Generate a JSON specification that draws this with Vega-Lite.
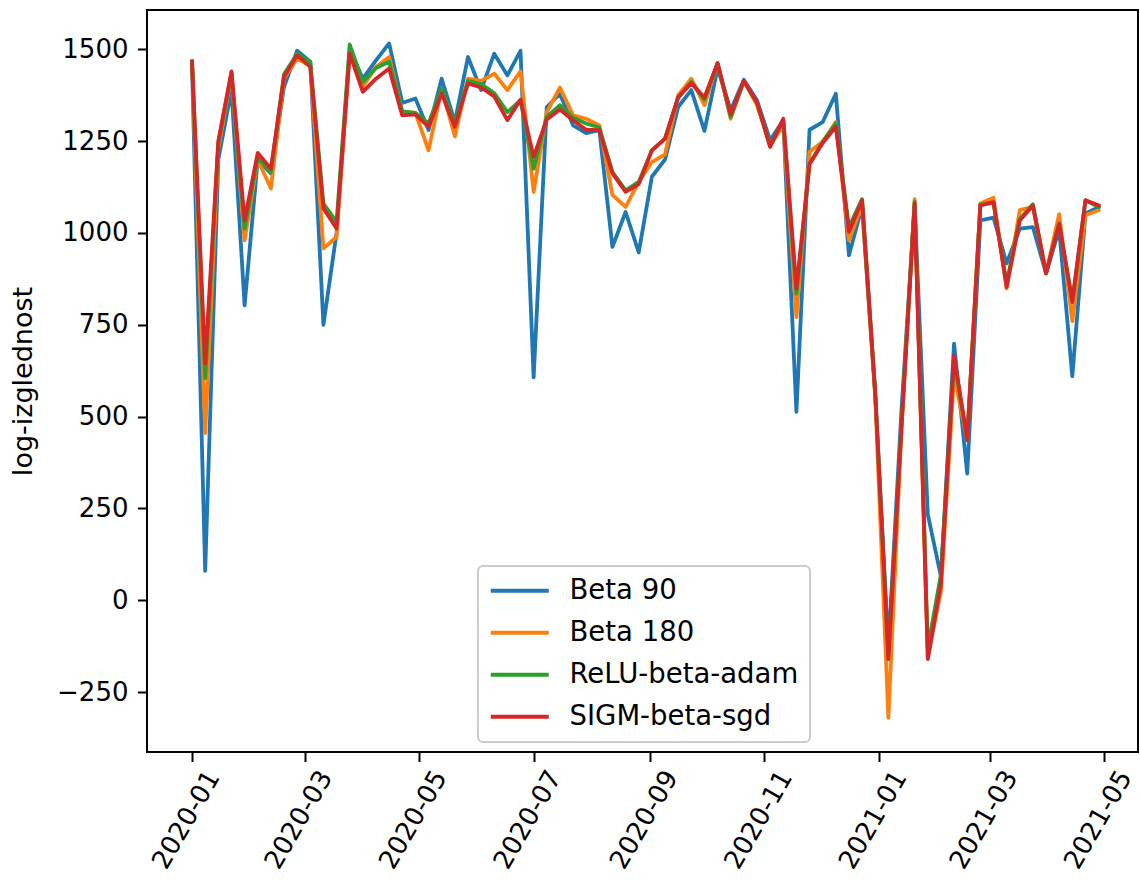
{
  "$schema": "https://vega.github.io/schema/vega-lite/v6.json",
  "width": 991,
  "height": 742,
  "autosize": {"type": "none"},
  "padding": {"left": 147, "top": 10, "right": 2, "bottom": 129},
  "background": "white",
  "config": {
    "font": "DejaVu Sans",
    "view": {"stroke": "black", "strokeWidth": 2},
    "legend": {"strokeWidth": 2},
    "axis": {"grid": false, "domain": false, "labelColor": "black", "tickColor": "black", "tickSize": 9.5, "tickWidth": 2, "labelFontSize": 26, "titleFontSize": 27, "titleFontWeight": "normal", "titleColor": "black", "labelFont": "DejaVu Sans", "titleFont": "DejaVu Sans"}
  },
  "data": {"values": [
{"d":"2020-01-01","s":"Beta 90","v":1455},{"d":"2020-01-01","s":"Beta 180","v":1462},{"d":"2020-01-01","s":"ReLU-beta-adam","v":1468},{"d":"2020-01-01","s":"SIGM-beta-sgd","v":1465},
{"d":"2020-01-08","s":"Beta 90","v":80},{"d":"2020-01-08","s":"Beta 180","v":455},{"d":"2020-01-08","s":"ReLU-beta-adam","v":604},{"d":"2020-01-08","s":"SIGM-beta-sgd","v":645},
{"d":"2020-01-15","s":"Beta 90","v":1200},{"d":"2020-01-15","s":"Beta 180","v":1230},{"d":"2020-01-15","s":"ReLU-beta-adam","v":1245},{"d":"2020-01-15","s":"SIGM-beta-sgd","v":1250},
{"d":"2020-01-22","s":"Beta 90","v":1390},{"d":"2020-01-22","s":"Beta 180","v":1430},{"d":"2020-01-22","s":"ReLU-beta-adam","v":1435},{"d":"2020-01-22","s":"SIGM-beta-sgd","v":1440},
{"d":"2020-01-29","s":"Beta 90","v":803},{"d":"2020-01-29","s":"Beta 180","v":980},{"d":"2020-01-29","s":"ReLU-beta-adam","v":1012},{"d":"2020-01-29","s":"SIGM-beta-sgd","v":1034},
{"d":"2020-02-05","s":"Beta 90","v":1200},{"d":"2020-02-05","s":"Beta 180","v":1200},{"d":"2020-02-05","s":"ReLU-beta-adam","v":1205},{"d":"2020-02-05","s":"SIGM-beta-sgd","v":1218},
{"d":"2020-02-12","s":"Beta 90","v":1162},{"d":"2020-02-12","s":"Beta 180","v":1121},{"d":"2020-02-12","s":"ReLU-beta-adam","v":1165},{"d":"2020-02-12","s":"SIGM-beta-sgd","v":1175},
{"d":"2020-02-19","s":"Beta 90","v":1398},{"d":"2020-02-19","s":"Beta 180","v":1420},{"d":"2020-02-19","s":"ReLU-beta-adam","v":1432},{"d":"2020-02-19","s":"SIGM-beta-sgd","v":1425},
{"d":"2020-02-26","s":"Beta 90","v":1496},{"d":"2020-02-26","s":"Beta 180","v":1475},{"d":"2020-02-26","s":"ReLU-beta-adam","v":1488},{"d":"2020-02-26","s":"SIGM-beta-sgd","v":1484},
{"d":"2020-03-04","s":"Beta 90","v":1466},{"d":"2020-03-04","s":"Beta 180","v":1455},{"d":"2020-03-04","s":"ReLU-beta-adam","v":1466},{"d":"2020-03-04","s":"SIGM-beta-sgd","v":1452},
{"d":"2020-03-11","s":"Beta 90","v":750},{"d":"2020-03-11","s":"Beta 180","v":958},{"d":"2020-03-11","s":"ReLU-beta-adam","v":1080},{"d":"2020-03-11","s":"SIGM-beta-sgd","v":1067},
{"d":"2020-03-18","s":"Beta 90","v":1000},{"d":"2020-03-18","s":"Beta 180","v":989},{"d":"2020-03-18","s":"ReLU-beta-adam","v":1030},{"d":"2020-03-18","s":"SIGM-beta-sgd","v":1012},
{"d":"2020-03-25","s":"Beta 90","v":1500},{"d":"2020-03-25","s":"Beta 180","v":1495},{"d":"2020-03-25","s":"ReLU-beta-adam","v":1513},{"d":"2020-03-25","s":"SIGM-beta-sgd","v":1488},
{"d":"2020-04-01","s":"Beta 90","v":1420},{"d":"2020-04-01","s":"Beta 180","v":1398},{"d":"2020-04-01","s":"ReLU-beta-adam","v":1411},{"d":"2020-04-01","s":"SIGM-beta-sgd","v":1384},
{"d":"2020-04-08","s":"Beta 90","v":1470},{"d":"2020-04-08","s":"Beta 180","v":1452},{"d":"2020-04-08","s":"ReLU-beta-adam","v":1449},{"d":"2020-04-08","s":"SIGM-beta-sgd","v":1420},
{"d":"2020-04-15","s":"Beta 90","v":1516},{"d":"2020-04-15","s":"Beta 180","v":1479},{"d":"2020-04-15","s":"ReLU-beta-adam","v":1466},{"d":"2020-04-15","s":"SIGM-beta-sgd","v":1448},
{"d":"2020-04-22","s":"Beta 90","v":1354},{"d":"2020-04-22","s":"Beta 180","v":1330},{"d":"2020-04-22","s":"ReLU-beta-adam","v":1331},{"d":"2020-04-22","s":"SIGM-beta-sgd","v":1320},
{"d":"2020-04-29","s":"Beta 90","v":1366},{"d":"2020-04-29","s":"Beta 180","v":1327},{"d":"2020-04-29","s":"ReLU-beta-adam","v":1327},{"d":"2020-04-29","s":"SIGM-beta-sgd","v":1323},
{"d":"2020-05-06","s":"Beta 90","v":1280},{"d":"2020-05-06","s":"Beta 180","v":1225},{"d":"2020-05-06","s":"ReLU-beta-adam","v":1298},{"d":"2020-05-06","s":"SIGM-beta-sgd","v":1289},
{"d":"2020-05-13","s":"Beta 90","v":1420},{"d":"2020-05-13","s":"Beta 180","v":1393},{"d":"2020-05-13","s":"ReLU-beta-adam","v":1393},{"d":"2020-05-13","s":"SIGM-beta-sgd","v":1379},
{"d":"2020-05-20","s":"Beta 90","v":1302},{"d":"2020-05-20","s":"Beta 180","v":1263},{"d":"2020-05-20","s":"ReLU-beta-adam","v":1298},{"d":"2020-05-20","s":"SIGM-beta-sgd","v":1289},
{"d":"2020-05-27","s":"Beta 90","v":1479},{"d":"2020-05-27","s":"Beta 180","v":1420},{"d":"2020-05-27","s":"ReLU-beta-adam","v":1414},{"d":"2020-05-27","s":"SIGM-beta-sgd","v":1407},
{"d":"2020-06-03","s":"Beta 90","v":1389},{"d":"2020-06-03","s":"Beta 180","v":1414},{"d":"2020-06-03","s":"ReLU-beta-adam","v":1405},{"d":"2020-06-03","s":"SIGM-beta-sgd","v":1396},
{"d":"2020-06-10","s":"Beta 90","v":1488},{"d":"2020-06-10","s":"Beta 180","v":1434},{"d":"2020-06-10","s":"ReLU-beta-adam","v":1381},{"d":"2020-06-10","s":"SIGM-beta-sgd","v":1372},
{"d":"2020-06-17","s":"Beta 90","v":1429},{"d":"2020-06-17","s":"Beta 180","v":1389},{"d":"2020-06-17","s":"ReLU-beta-adam","v":1329},{"d":"2020-06-17","s":"SIGM-beta-sgd","v":1307},
{"d":"2020-06-24","s":"Beta 90","v":1496},{"d":"2020-06-24","s":"Beta 180","v":1440},{"d":"2020-06-24","s":"ReLU-beta-adam","v":1361},{"d":"2020-06-24","s":"SIGM-beta-sgd","v":1363},
{"d":"2020-07-01","s":"Beta 90","v":607},{"d":"2020-07-01","s":"Beta 180","v":1112},{"d":"2020-07-01","s":"ReLU-beta-adam","v":1175},{"d":"2020-07-01","s":"SIGM-beta-sgd","v":1207},
{"d":"2020-07-08","s":"Beta 90","v":1343},{"d":"2020-07-08","s":"Beta 180","v":1329},{"d":"2020-07-08","s":"ReLU-beta-adam","v":1316},{"d":"2020-07-08","s":"SIGM-beta-sgd","v":1309},
{"d":"2020-07-15","s":"Beta 90","v":1379},{"d":"2020-07-15","s":"Beta 180","v":1396},{"d":"2020-07-15","s":"ReLU-beta-adam","v":1348},{"d":"2020-07-15","s":"SIGM-beta-sgd","v":1336},
{"d":"2020-07-22","s":"Beta 90","v":1293},{"d":"2020-07-22","s":"Beta 180","v":1320},{"d":"2020-07-22","s":"ReLU-beta-adam","v":1314},{"d":"2020-07-22","s":"SIGM-beta-sgd","v":1307},
{"d":"2020-07-29","s":"Beta 90","v":1272},{"d":"2020-07-29","s":"Beta 180","v":1311},{"d":"2020-07-29","s":"ReLU-beta-adam","v":1298},{"d":"2020-07-29","s":"SIGM-beta-sgd","v":1281},
{"d":"2020-08-05","s":"Beta 90","v":1280},{"d":"2020-08-05","s":"Beta 180","v":1293},{"d":"2020-08-05","s":"ReLU-beta-adam","v":1287},{"d":"2020-08-05","s":"SIGM-beta-sgd","v":1280},
{"d":"2020-08-12","s":"Beta 90","v":962},{"d":"2020-08-12","s":"Beta 180","v":1103},{"d":"2020-08-12","s":"ReLU-beta-adam","v":1166},{"d":"2020-08-12","s":"SIGM-beta-sgd","v":1162},
{"d":"2020-08-19","s":"Beta 90","v":1057},{"d":"2020-08-19","s":"Beta 180","v":1071},{"d":"2020-08-19","s":"ReLU-beta-adam","v":1116},{"d":"2020-08-19","s":"SIGM-beta-sgd","v":1112},
{"d":"2020-08-26","s":"Beta 90","v":947},{"d":"2020-08-26","s":"Beta 180","v":1139},{"d":"2020-08-26","s":"ReLU-beta-adam","v":1139},{"d":"2020-08-26","s":"SIGM-beta-sgd","v":1133},
{"d":"2020-09-02","s":"Beta 90","v":1153},{"d":"2020-09-02","s":"Beta 180","v":1193},{"d":"2020-09-02","s":"ReLU-beta-adam","v":1225},{"d":"2020-09-02","s":"SIGM-beta-sgd","v":1225},
{"d":"2020-09-09","s":"Beta 90","v":1200},{"d":"2020-09-09","s":"Beta 180","v":1214},{"d":"2020-09-09","s":"ReLU-beta-adam","v":1257},{"d":"2020-09-09","s":"SIGM-beta-sgd","v":1257},
{"d":"2020-09-16","s":"Beta 90","v":1343},{"d":"2020-09-16","s":"Beta 180","v":1375},{"d":"2020-09-16","s":"ReLU-beta-adam","v":1369},{"d":"2020-09-16","s":"SIGM-beta-sgd","v":1369},
{"d":"2020-09-23","s":"Beta 90","v":1389},{"d":"2020-09-23","s":"Beta 180","v":1420},{"d":"2020-09-23","s":"ReLU-beta-adam","v":1411},{"d":"2020-09-23","s":"SIGM-beta-sgd","v":1408},
{"d":"2020-09-30","s":"Beta 90","v":1278},{"d":"2020-09-30","s":"Beta 180","v":1348},{"d":"2020-09-30","s":"ReLU-beta-adam","v":1363},{"d":"2020-09-30","s":"SIGM-beta-sgd","v":1369},
{"d":"2020-10-07","s":"Beta 90","v":1448},{"d":"2020-10-07","s":"Beta 180","v":1462},{"d":"2020-10-07","s":"ReLU-beta-adam","v":1462},{"d":"2020-10-07","s":"SIGM-beta-sgd","v":1462},
{"d":"2020-10-14","s":"Beta 90","v":1334},{"d":"2020-10-14","s":"Beta 180","v":1311},{"d":"2020-10-14","s":"ReLU-beta-adam","v":1316},{"d":"2020-10-14","s":"SIGM-beta-sgd","v":1323},
{"d":"2020-10-21","s":"Beta 90","v":1417},{"d":"2020-10-21","s":"Beta 180","v":1414},{"d":"2020-10-21","s":"ReLU-beta-adam","v":1414},{"d":"2020-10-21","s":"SIGM-beta-sgd","v":1414},
{"d":"2020-10-28","s":"Beta 90","v":1361},{"d":"2020-10-28","s":"Beta 180","v":1348},{"d":"2020-10-28","s":"ReLU-beta-adam","v":1354},{"d":"2020-10-28","s":"SIGM-beta-sgd","v":1356},
{"d":"2020-11-04","s":"Beta 90","v":1252},{"d":"2020-11-04","s":"Beta 180","v":1239},{"d":"2020-11-04","s":"ReLU-beta-adam","v":1236},{"d":"2020-11-04","s":"SIGM-beta-sgd","v":1234},
{"d":"2020-11-11","s":"Beta 90","v":1307},{"d":"2020-11-11","s":"Beta 180","v":1293},{"d":"2020-11-11","s":"ReLU-beta-adam","v":1307},{"d":"2020-11-11","s":"SIGM-beta-sgd","v":1311},
{"d":"2020-11-18","s":"Beta 90","v":513},{"d":"2020-11-18","s":"Beta 180","v":771},{"d":"2020-11-18","s":"ReLU-beta-adam","v":835},{"d":"2020-11-18","s":"SIGM-beta-sgd","v":849},
{"d":"2020-11-25","s":"Beta 90","v":1281},{"d":"2020-11-25","s":"Beta 180","v":1221},{"d":"2020-11-25","s":"ReLU-beta-adam","v":1189},{"d":"2020-11-25","s":"SIGM-beta-sgd","v":1187},
{"d":"2020-12-02","s":"Beta 90","v":1302},{"d":"2020-12-02","s":"Beta 180","v":1248},{"d":"2020-12-02","s":"ReLU-beta-adam","v":1248},{"d":"2020-12-02","s":"SIGM-beta-sgd","v":1245},
{"d":"2020-12-09","s":"Beta 90","v":1379},{"d":"2020-12-09","s":"Beta 180","v":1302},{"d":"2020-12-09","s":"ReLU-beta-adam","v":1298},{"d":"2020-12-09","s":"SIGM-beta-sgd","v":1289},
{"d":"2020-12-16","s":"Beta 90","v":939},{"d":"2020-12-16","s":"Beta 180","v":980},{"d":"2020-12-16","s":"ReLU-beta-adam","v":1016},{"d":"2020-12-16","s":"SIGM-beta-sgd","v":1003},
{"d":"2020-12-23","s":"Beta 90","v":1073},{"d":"2020-12-23","s":"Beta 180","v":1075},{"d":"2020-12-23","s":"ReLU-beta-adam","v":1092},{"d":"2020-12-23","s":"SIGM-beta-sgd","v":1089},
{"d":"2020-12-30","s":"Beta 90","v":560},{"d":"2020-12-30","s":"Beta 180","v":555},{"d":"2020-12-30","s":"ReLU-beta-adam","v":565},{"d":"2020-12-30","s":"SIGM-beta-sgd","v":565},
{"d":"2021-01-06","s":"Beta 90","v":-130},{"d":"2021-01-06","s":"Beta 180","v":-320},{"d":"2021-01-06","s":"ReLU-beta-adam","v":-150},{"d":"2021-01-06","s":"SIGM-beta-sgd","v":-160},
{"d":"2021-01-13","s":"Beta 90","v":520},{"d":"2021-01-13","s":"Beta 180","v":470},{"d":"2021-01-13","s":"ReLU-beta-adam","v":480},{"d":"2021-01-13","s":"SIGM-beta-sgd","v":470},
{"d":"2021-01-20","s":"Beta 90","v":1075},{"d":"2021-01-20","s":"Beta 180","v":1092},{"d":"2021-01-20","s":"ReLU-beta-adam","v":1085},{"d":"2021-01-20","s":"SIGM-beta-sgd","v":1080},
{"d":"2021-01-27","s":"Beta 90","v":234},{"d":"2021-01-27","s":"Beta 180","v":-155},{"d":"2021-01-27","s":"ReLU-beta-adam","v":-130},{"d":"2021-01-27","s":"SIGM-beta-sgd","v":-160},
{"d":"2021-02-03","s":"Beta 90","v":65},{"d":"2021-02-03","s":"Beta 180","v":25},{"d":"2021-02-03","s":"ReLU-beta-adam","v":70},{"d":"2021-02-03","s":"SIGM-beta-sgd","v":45},
{"d":"2021-02-10","s":"Beta 90","v":699},{"d":"2021-02-10","s":"Beta 180","v":612},{"d":"2021-02-10","s":"ReLU-beta-adam","v":655},{"d":"2021-02-10","s":"SIGM-beta-sgd","v":667},
{"d":"2021-02-17","s":"Beta 90","v":345},{"d":"2021-02-17","s":"Beta 180","v":436},{"d":"2021-02-17","s":"ReLU-beta-adam","v":440},{"d":"2021-02-17","s":"SIGM-beta-sgd","v":436},
{"d":"2021-02-24","s":"Beta 90","v":1034},{"d":"2021-02-24","s":"Beta 180","v":1080},{"d":"2021-02-24","s":"ReLU-beta-adam","v":1077},{"d":"2021-02-24","s":"SIGM-beta-sgd","v":1075},
{"d":"2021-03-03","s":"Beta 90","v":1042},{"d":"2021-03-03","s":"Beta 180","v":1096},{"d":"2021-03-03","s":"ReLU-beta-adam","v":1082},{"d":"2021-03-03","s":"SIGM-beta-sgd","v":1084},
{"d":"2021-03-10","s":"Beta 90","v":917},{"d":"2021-03-10","s":"Beta 180","v":849},{"d":"2021-03-10","s":"ReLU-beta-adam","v":862},{"d":"2021-03-10","s":"SIGM-beta-sgd","v":853},
{"d":"2021-03-17","s":"Beta 90","v":1012},{"d":"2021-03-17","s":"Beta 180","v":1062},{"d":"2021-03-17","s":"ReLU-beta-adam","v":1038},{"d":"2021-03-17","s":"SIGM-beta-sgd","v":1034},
{"d":"2021-03-24","s":"Beta 90","v":1016},{"d":"2021-03-24","s":"Beta 180","v":1071},{"d":"2021-03-24","s":"ReLU-beta-adam","v":1078},{"d":"2021-03-24","s":"SIGM-beta-sgd","v":1075},
{"d":"2021-03-31","s":"Beta 90","v":890},{"d":"2021-03-31","s":"Beta 180","v":890},{"d":"2021-03-31","s":"ReLU-beta-adam","v":890},{"d":"2021-03-31","s":"SIGM-beta-sgd","v":890},
{"d":"2021-04-07","s":"Beta 90","v":1010},{"d":"2021-04-07","s":"Beta 180","v":1051},{"d":"2021-04-07","s":"ReLU-beta-adam","v":1025},{"d":"2021-04-07","s":"SIGM-beta-sgd","v":1025},
{"d":"2021-04-14","s":"Beta 90","v":610},{"d":"2021-04-14","s":"Beta 180","v":760},{"d":"2021-04-14","s":"ReLU-beta-adam","v":815},{"d":"2021-04-14","s":"SIGM-beta-sgd","v":812},
{"d":"2021-04-21","s":"Beta 90","v":1053},{"d":"2021-04-21","s":"Beta 180","v":1048},{"d":"2021-04-21","s":"ReLU-beta-adam","v":1089},{"d":"2021-04-21","s":"SIGM-beta-sgd","v":1089},
{"d":"2021-04-28","s":"Beta 90","v":1070},{"d":"2021-04-28","s":"Beta 180","v":1062},{"d":"2021-04-28","s":"ReLU-beta-adam","v":1071},{"d":"2021-04-28","s":"SIGM-beta-sgd","v":1075}
  ]},
  "mark": {"type": "line", "strokeWidth": 3.8, "strokeJoin": "round", "strokeCap": "square"},
  "encoding": {
    "x": {"field": "d", "type": "temporal",
      "scale": {"type": "utc", "domain": [{"year": 2019, "month": 12, "date": 8, "utc": true}, {"year": 2021, "month": 5, "date": 19, "utc": true}]},
      "axis": {"title": null, "format": "%Y-%m", "tickCount": {"interval": "month", "step": 2}, "labelAngle": -60, "labelAlign": "right", "labelBaseline": "middle", "labelFontSize": 26, "labelPadding": 11, "labelOffset": 21, "labelOverlap": false, "labelFlush": false, "labelBound": false}},
    "y": {"field": "v", "type": "quantitative",
      "scale": {"domain": [-413, 1607], "nice": false, "zero": false},
      "axis": {"title": "log-izglednost", "format": "d", "values": [-250, 0, 250, 500, 750, 1000, 1250, 1500], "labelPadding": 9.5, "titlePadding": 19}},
    "color": {"field": "s", "type": "nominal",
      "scale": {"domain": ["Beta 90", "Beta 180", "ReLU-beta-adam", "SIGM-beta-sgd"], "range": ["#1f77b4", "#ff7f0e", "#2ca02c", "#d62728"]},
      "legend": {"title": null, "orient": "none", "legendX": 331, "legendY": 556, "symbolType": "M-2.9,0L2.9,0", "symbolSize": 400, "symbolStrokeWidth": 4, "symbolOffset": 17, "labelOffset": 36, "labelLimit": 500, "labelFontSize": 27.5, "labelColor": "black", "labelFont": "DejaVu Sans", "rowPadding": 13, "padding": 11, "fillColor": "rgba(255,255,255,0.8)", "strokeColor": "#cccccc", "cornerRadius": 5}}
  }
}
